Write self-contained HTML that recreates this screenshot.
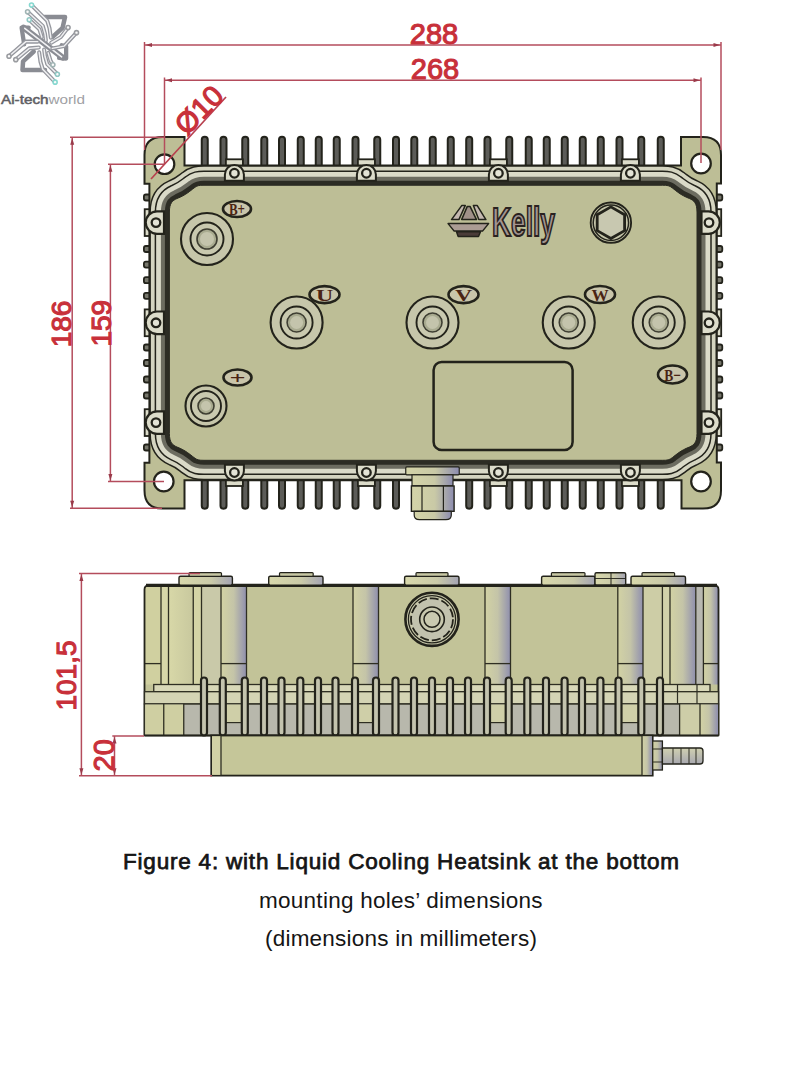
<!DOCTYPE html>
<html><head><meta charset="utf-8"><title>Figure 4</title>
<style>
html,body{margin:0;padding:0;background:#fff;}
body{width:800px;height:1066px;overflow:hidden;position:relative;font-family:"Liberation Sans",sans-serif;}
svg{position:absolute;left:0;top:0;}
</style></head><body>
<svg width="800" height="1066" viewBox="0 0 800 1066">
<defs>
<linearGradient id="gl" x1="0" x2="1" y1="0" y2="0">
<stop offset="0" stop-color="#d4d4a8"/><stop offset="0.55" stop-color="#c9c9a6"/><stop offset="1" stop-color="#8c8cb0"/></linearGradient>
<linearGradient id="cyl" x1="0" x2="1" y1="0" y2="0">
<stop offset="0" stop-color="#d2d2a4"/><stop offset="0.5" stop-color="#c4c4a8"/><stop offset="1" stop-color="#8f8fae"/></linearGradient>
<linearGradient id="ylw" x1="0" x2="1" y1="0" y2="0"><stop offset="0" stop-color="#d8d8a8"/><stop offset="1" stop-color="#c8c89e"/></linearGradient>
<linearGradient id="capg" x1="0" x2="1" y1="0" y2="0"><stop offset="0" stop-color="#d8d8ac"/><stop offset="0.6" stop-color="#cacaa8"/><stop offset="1" stop-color="#a4a4b4"/></linearGradient>
<linearGradient id="barb" x1="0" x2="0" y1="0" y2="1"><stop offset="0" stop-color="#d0d0b0"/><stop offset="1" stop-color="#a8a8b0"/></linearGradient>
</defs>

<rect x="201.75" y="136.8" width="6" height="32" rx="3" fill="#5c5c58" stroke="#23231b" stroke-width="2"/>
<rect x="220.50" y="136.8" width="6" height="32" rx="3" fill="#5c5c58" stroke="#23231b" stroke-width="2"/>
<rect x="242.25" y="136.8" width="6" height="32" rx="3" fill="#5c5c58" stroke="#23231b" stroke-width="2"/>
<rect x="261.30" y="136.8" width="6" height="32" rx="3" fill="#5c5c58" stroke="#23231b" stroke-width="2"/>
<rect x="279.00" y="136.8" width="6" height="32" rx="3" fill="#5c5c58" stroke="#23231b" stroke-width="2"/>
<rect x="297.75" y="136.8" width="6" height="32" rx="3" fill="#5c5c58" stroke="#23231b" stroke-width="2"/>
<rect x="315.75" y="136.8" width="6" height="32" rx="3" fill="#5c5c58" stroke="#23231b" stroke-width="2"/>
<rect x="333.75" y="136.8" width="6" height="32" rx="3" fill="#5c5c58" stroke="#23231b" stroke-width="2"/>
<rect x="352.50" y="136.8" width="6" height="32" rx="3" fill="#5c5c58" stroke="#23231b" stroke-width="2"/>
<rect x="374.25" y="136.8" width="6" height="32" rx="3" fill="#5c5c58" stroke="#23231b" stroke-width="2"/>
<rect x="393.00" y="136.8" width="6" height="32" rx="3" fill="#5c5c58" stroke="#23231b" stroke-width="2"/>
<rect x="411.30" y="136.8" width="6" height="32" rx="3" fill="#5c5c58" stroke="#23231b" stroke-width="2"/>
<rect x="429.75" y="136.8" width="6" height="32" rx="3" fill="#5c5c58" stroke="#23231b" stroke-width="2"/>
<rect x="447.75" y="136.8" width="6" height="32" rx="3" fill="#5c5c58" stroke="#23231b" stroke-width="2"/>
<rect x="466.20" y="136.8" width="6" height="32" rx="3" fill="#5c5c58" stroke="#23231b" stroke-width="2"/>
<rect x="484.50" y="136.8" width="6" height="32" rx="3" fill="#5c5c58" stroke="#23231b" stroke-width="2"/>
<rect x="506.25" y="136.8" width="6" height="32" rx="3" fill="#5c5c58" stroke="#23231b" stroke-width="2"/>
<rect x="525.75" y="136.8" width="6" height="32" rx="3" fill="#5c5c58" stroke="#23231b" stroke-width="2"/>
<rect x="543.75" y="136.8" width="6" height="32" rx="3" fill="#5c5c58" stroke="#23231b" stroke-width="2"/>
<rect x="561.75" y="136.8" width="6" height="32" rx="3" fill="#5c5c58" stroke="#23231b" stroke-width="2"/>
<rect x="579.75" y="136.8" width="6" height="32" rx="3" fill="#5c5c58" stroke="#23231b" stroke-width="2"/>
<rect x="597.75" y="136.8" width="6" height="32" rx="3" fill="#5c5c58" stroke="#23231b" stroke-width="2"/>
<rect x="616.50" y="136.8" width="6" height="32" rx="3" fill="#5c5c58" stroke="#23231b" stroke-width="2"/>
<rect x="638.25" y="136.8" width="6" height="32" rx="3" fill="#5c5c58" stroke="#23231b" stroke-width="2"/>
<rect x="657.75" y="136.8" width="6" height="32" rx="3" fill="#5c5c58" stroke="#23231b" stroke-width="2"/>
<rect x="201.75" y="477" width="6" height="31.8" rx="3" fill="#5c5c58" stroke="#23231b" stroke-width="2"/>
<rect x="220.50" y="477" width="6" height="31.8" rx="3" fill="#5c5c58" stroke="#23231b" stroke-width="2"/>
<rect x="242.25" y="477" width="6" height="31.8" rx="3" fill="#5c5c58" stroke="#23231b" stroke-width="2"/>
<rect x="261.30" y="477" width="6" height="31.8" rx="3" fill="#5c5c58" stroke="#23231b" stroke-width="2"/>
<rect x="279.00" y="477" width="6" height="31.8" rx="3" fill="#5c5c58" stroke="#23231b" stroke-width="2"/>
<rect x="297.75" y="477" width="6" height="31.8" rx="3" fill="#5c5c58" stroke="#23231b" stroke-width="2"/>
<rect x="315.75" y="477" width="6" height="31.8" rx="3" fill="#5c5c58" stroke="#23231b" stroke-width="2"/>
<rect x="333.75" y="477" width="6" height="31.8" rx="3" fill="#5c5c58" stroke="#23231b" stroke-width="2"/>
<rect x="352.50" y="477" width="6" height="31.8" rx="3" fill="#5c5c58" stroke="#23231b" stroke-width="2"/>
<rect x="374.25" y="477" width="6" height="31.8" rx="3" fill="#5c5c58" stroke="#23231b" stroke-width="2"/>
<rect x="393.00" y="477" width="6" height="31.8" rx="3" fill="#5c5c58" stroke="#23231b" stroke-width="2"/>
<rect x="466.20" y="477" width="6" height="31.8" rx="3" fill="#5c5c58" stroke="#23231b" stroke-width="2"/>
<rect x="484.50" y="477" width="6" height="31.8" rx="3" fill="#5c5c58" stroke="#23231b" stroke-width="2"/>
<rect x="506.25" y="477" width="6" height="31.8" rx="3" fill="#5c5c58" stroke="#23231b" stroke-width="2"/>
<rect x="525.75" y="477" width="6" height="31.8" rx="3" fill="#5c5c58" stroke="#23231b" stroke-width="2"/>
<rect x="543.75" y="477" width="6" height="31.8" rx="3" fill="#5c5c58" stroke="#23231b" stroke-width="2"/>
<rect x="561.75" y="477" width="6" height="31.8" rx="3" fill="#5c5c58" stroke="#23231b" stroke-width="2"/>
<rect x="579.75" y="477" width="6" height="31.8" rx="3" fill="#5c5c58" stroke="#23231b" stroke-width="2"/>
<rect x="597.75" y="477" width="6" height="31.8" rx="3" fill="#5c5c58" stroke="#23231b" stroke-width="2"/>
<rect x="616.50" y="477" width="6" height="31.8" rx="3" fill="#5c5c58" stroke="#23231b" stroke-width="2"/>
<rect x="638.25" y="477" width="6" height="31.8" rx="3" fill="#5c5c58" stroke="#23231b" stroke-width="2"/>
<rect x="657.75" y="477" width="6" height="31.8" rx="3" fill="#5c5c58" stroke="#23231b" stroke-width="2"/>
<rect x="143.9" y="194.5" width="8" height="6" rx="2" fill="#77776c" stroke="#23231b" stroke-width="1.8"/>
<rect x="714.5" y="194.5" width="7.8" height="6" rx="2" fill="#77776c" stroke="#23231b" stroke-width="1.8"/>
<rect x="143.9" y="246.0" width="8" height="6" rx="2" fill="#77776c" stroke="#23231b" stroke-width="1.8"/>
<rect x="714.5" y="246.0" width="7.8" height="6" rx="2" fill="#77776c" stroke="#23231b" stroke-width="1.8"/>
<rect x="143.9" y="261.6" width="8" height="6" rx="2" fill="#77776c" stroke="#23231b" stroke-width="1.8"/>
<rect x="714.5" y="261.6" width="7.8" height="6" rx="2" fill="#77776c" stroke="#23231b" stroke-width="1.8"/>
<rect x="143.9" y="277.2" width="8" height="6" rx="2" fill="#77776c" stroke="#23231b" stroke-width="1.8"/>
<rect x="714.5" y="277.2" width="7.8" height="6" rx="2" fill="#77776c" stroke="#23231b" stroke-width="1.8"/>
<rect x="143.9" y="292.8" width="8" height="6" rx="2" fill="#77776c" stroke="#23231b" stroke-width="1.8"/>
<rect x="714.5" y="292.8" width="7.8" height="6" rx="2" fill="#77776c" stroke="#23231b" stroke-width="1.8"/>
<rect x="143.9" y="344.5" width="8" height="6" rx="2" fill="#77776c" stroke="#23231b" stroke-width="1.8"/>
<rect x="714.5" y="344.5" width="7.8" height="6" rx="2" fill="#77776c" stroke="#23231b" stroke-width="1.8"/>
<rect x="143.9" y="360.0" width="8" height="6" rx="2" fill="#77776c" stroke="#23231b" stroke-width="1.8"/>
<rect x="714.5" y="360.0" width="7.8" height="6" rx="2" fill="#77776c" stroke="#23231b" stroke-width="1.8"/>
<rect x="143.9" y="376.5" width="8" height="6" rx="2" fill="#77776c" stroke="#23231b" stroke-width="1.8"/>
<rect x="714.5" y="376.5" width="7.8" height="6" rx="2" fill="#77776c" stroke="#23231b" stroke-width="1.8"/>
<rect x="143.9" y="392.5" width="8" height="6" rx="2" fill="#77776c" stroke="#23231b" stroke-width="1.8"/>
<rect x="714.5" y="392.5" width="7.8" height="6" rx="2" fill="#77776c" stroke="#23231b" stroke-width="1.8"/>
<rect x="143.9" y="444.5" width="8" height="6" rx="2" fill="#77776c" stroke="#23231b" stroke-width="1.8"/>
<rect x="714.5" y="444.5" width="7.8" height="6" rx="2" fill="#77776c" stroke="#23231b" stroke-width="1.8"/>
<rect x="225.9" y="159.3" width="17" height="9" fill="#dcdcca" stroke="#23231b" stroke-width="1.8"/>
<rect x="225.9" y="477" width="17" height="9" fill="#dcdcca" stroke="#23231b" stroke-width="1.8"/>
<rect x="357.9" y="159.3" width="17" height="9" fill="#dcdcca" stroke="#23231b" stroke-width="1.8"/>
<rect x="357.9" y="477" width="17" height="9" fill="#dcdcca" stroke="#23231b" stroke-width="1.8"/>
<rect x="489.9" y="159.3" width="17" height="9" fill="#dcdcca" stroke="#23231b" stroke-width="1.8"/>
<rect x="489.9" y="477" width="17" height="9" fill="#dcdcca" stroke="#23231b" stroke-width="1.8"/>
<rect x="621.9" y="159.3" width="17" height="9" fill="#dcdcca" stroke="#23231b" stroke-width="1.8"/>
<rect x="621.9" y="477" width="17" height="9" fill="#dcdcca" stroke="#23231b" stroke-width="1.8"/>
<rect x="144.7" y="209.2" width="9" height="26.8" fill="#dcdcca" stroke="#23231b" stroke-width="1.8"/>
<rect x="712.5" y="209.2" width="8.7" height="26.8" fill="#dcdcca" stroke="#23231b" stroke-width="1.8"/>
<rect x="144.7" y="309.4" width="9" height="26.8" fill="#dcdcca" stroke="#23231b" stroke-width="1.8"/>
<rect x="712.5" y="309.4" width="8.7" height="26.8" fill="#dcdcca" stroke="#23231b" stroke-width="1.8"/>
<rect x="144.7" y="409.2" width="9" height="26.8" fill="#dcdcca" stroke="#23231b" stroke-width="1.8"/>
<rect x="712.5" y="409.2" width="8.7" height="26.8" fill="#dcdcca" stroke="#23231b" stroke-width="1.8"/>
<path d="M144.5,155 Q144.5,137 162.5,137 L184.5,137 L184.5,165.5 L681,165.5 L681,137 L703,137 Q721,137 721,155 L721,183.5 L716.8,183.5 L716.8,462.5 L721,462.5 L721,490.5 Q721,508.6 703,508.6 L681.5,508.6 L681.5,480.2 L184.5,480.2 L184.5,508.6 L162.5,508.6 Q144.5,508.6 144.5,490.5 L144.5,462.75 L149.4,462.75 L149.4,183.75 L144.5,183.75 Z" fill="#bdbe96" stroke="#23231b" stroke-width="2"/>
<circle cx="164.5" cy="164.2" r="9.8" fill="#fff" stroke="#23231b" stroke-width="2.2"/>
<circle cx="701" cy="163.5" r="9.8" fill="#fff" stroke="#23231b" stroke-width="2.2"/>
<circle cx="163.75" cy="481.5" r="9.8" fill="#fff" stroke="#23231b" stroke-width="2.2"/>
<circle cx="701" cy="481.5" r="9.8" fill="#fff" stroke="#23231b" stroke-width="2.2"/>
<path d="M169.40,212.00 C169.40,203.00 172.50,200.50 177.00,198.50 C186.00,195.00 190.00,191.00 194.00,188.00 C197.00,185.50 199.00,185.25 204.00,185.25 L662.40,185.25 C667.40,185.25 669.40,185.50 672.40,188.00 C676.40,191.00 680.40,195.00 689.40,198.50 C693.90,200.50 697.00,203.00 697.00,212.00 L697.00,433.55 C697.00,442.55 693.90,445.05 689.40,447.05 C680.40,450.55 676.40,454.55 672.40,457.55 C669.40,460.05 667.40,460.30 662.40,460.30 L204.00,460.30 C199.00,460.30 197.00,460.05 194.00,457.55 C190.00,454.55 186.00,450.55 177.00,447.05 C172.50,445.05 169.40,442.55 169.40,433.55 Z" fill="none" stroke="#23231b" stroke-width="40"/>
<path d="M169.40,212.00 C169.40,203.00 172.50,200.50 177.00,198.50 C186.00,195.00 190.00,191.00 194.00,188.00 C197.00,185.50 199.00,185.25 204.00,185.25 L662.40,185.25 C667.40,185.25 669.40,185.50 672.40,188.00 C676.40,191.00 680.40,195.00 689.40,198.50 C693.90,200.50 697.00,203.00 697.00,212.00 L697.00,433.55 C697.00,442.55 693.90,445.05 689.40,447.05 C680.40,450.55 676.40,454.55 672.40,457.55 C669.40,460.05 667.40,460.30 662.40,460.30 L204.00,460.30 C199.00,460.30 197.00,460.05 194.00,457.55 C190.00,454.55 186.00,450.55 177.00,447.05 C172.50,445.05 169.40,442.55 169.40,433.55 Z" fill="none" stroke="#d4d4c0" stroke-width="37"/>
<path d="M169.40,212.00 C169.40,203.00 172.50,200.50 177.00,198.50 C186.00,195.00 190.00,191.00 194.00,188.00 C197.00,185.50 199.00,185.25 204.00,185.25 L662.40,185.25 C667.40,185.25 669.40,185.50 672.40,188.00 C676.40,191.00 680.40,195.00 689.40,198.50 C693.90,200.50 697.00,203.00 697.00,212.00 L697.00,433.55 C697.00,442.55 693.90,445.05 689.40,447.05 C680.40,450.55 676.40,454.55 672.40,457.55 C669.40,460.05 667.40,460.30 662.40,460.30 L204.00,460.30 C199.00,460.30 197.00,460.05 194.00,457.55 C190.00,454.55 186.00,450.55 177.00,447.05 C172.50,445.05 169.40,442.55 169.40,433.55 Z" fill="none" stroke="#23231b" stroke-width="29.5"/>
<path d="M169.40,212.00 C169.40,203.00 172.50,200.50 177.00,198.50 C186.00,195.00 190.00,191.00 194.00,188.00 C197.00,185.50 199.00,185.25 204.00,185.25 L662.40,185.25 C667.40,185.25 669.40,185.50 672.40,188.00 C676.40,191.00 680.40,195.00 689.40,198.50 C693.90,200.50 697.00,203.00 697.00,212.00 L697.00,433.55 C697.00,442.55 693.90,445.05 689.40,447.05 C680.40,450.55 676.40,454.55 672.40,457.55 C669.40,460.05 667.40,460.30 662.40,460.30 L204.00,460.30 C199.00,460.30 197.00,460.05 194.00,457.55 C190.00,454.55 186.00,450.55 177.00,447.05 C172.50,445.05 169.40,442.55 169.40,433.55 Z" fill="none" stroke="#dadac8" stroke-width="26.5"/>
<path d="M169.40,212.00 C169.40,203.00 172.50,200.50 177.00,198.50 C186.00,195.00 190.00,191.00 194.00,188.00 C197.00,185.50 199.00,185.25 204.00,185.25 L662.40,185.25 C667.40,185.25 669.40,185.50 672.40,188.00 C676.40,191.00 680.40,195.00 689.40,198.50 C693.90,200.50 697.00,203.00 697.00,212.00 L697.00,433.55 C697.00,442.55 693.90,445.05 689.40,447.05 C680.40,450.55 676.40,454.55 672.40,457.55 C669.40,460.05 667.40,460.30 662.40,460.30 L204.00,460.30 C199.00,460.30 197.00,460.05 194.00,457.55 C190.00,454.55 186.00,450.55 177.00,447.05 C172.50,445.05 169.40,442.55 169.40,433.55 Z" fill="none" stroke="#6c6c60" stroke-width="17"/>
<path d="M169.40,212.00 C169.40,203.00 172.50,200.50 177.00,198.50 C186.00,195.00 190.00,191.00 194.00,188.00 C197.00,185.50 199.00,185.25 204.00,185.25 L662.40,185.25 C667.40,185.25 669.40,185.50 672.40,188.00 C676.40,191.00 680.40,195.00 689.40,198.50 C693.90,200.50 697.00,203.00 697.00,212.00 L697.00,433.55 C697.00,442.55 693.90,445.05 689.40,447.05 C680.40,450.55 676.40,454.55 672.40,457.55 C669.40,460.05 667.40,460.30 662.40,460.30 L204.00,460.30 C199.00,460.30 197.00,460.05 194.00,457.55 C190.00,454.55 186.00,450.55 177.00,447.05 C172.50,445.05 169.40,442.55 169.40,433.55 Z" fill="none" stroke="#2c2c24" stroke-width="9"/>
<path d="M169.40,212.00 C169.40,203.00 172.50,200.50 177.00,198.50 C186.00,195.00 190.00,191.00 194.00,188.00 C197.00,185.50 199.00,185.25 204.00,185.25 L662.40,185.25 C667.40,185.25 669.40,185.50 672.40,188.00 C676.40,191.00 680.40,195.00 689.40,198.50 C693.90,200.50 697.00,203.00 697.00,212.00 L697.00,433.55 C697.00,442.55 693.90,445.05 689.40,447.05 C680.40,450.55 676.40,454.55 672.40,457.55 C669.40,460.05 667.40,460.30 662.40,460.30 L204.00,460.30 C199.00,460.30 197.00,460.05 194.00,457.55 C190.00,454.55 186.00,450.55 177.00,447.05 C172.50,445.05 169.40,442.55 169.40,433.55 Z" fill="#bdbe96" stroke="#2a2a22" stroke-width="1"/>
<path d="M224.9,180.75 L224.9,174.5 A9.5,9.5 0 0 1 243.9,174.5 L243.9,180.75 Z" fill="#dcdcca" stroke="#23231b" stroke-width="2"/>
<circle cx="234.4" cy="173.25" r="4.3" fill="#e4e4d6" stroke="#23231b" stroke-width="2.3"/>
<path d="M224.9,464.8 L224.9,471 A9.5,9.5 0 0 0 243.9,471 L243.9,464.8 Z" fill="#dcdcca" stroke="#23231b" stroke-width="2"/>
<circle cx="234.4" cy="472.5" r="4.3" fill="#e4e4d6" stroke="#23231b" stroke-width="2.3"/>
<path d="M356.9,180.75 L356.9,174.5 A9.5,9.5 0 0 1 375.9,174.5 L375.9,180.75 Z" fill="#dcdcca" stroke="#23231b" stroke-width="2"/>
<circle cx="366.4" cy="173.25" r="4.3" fill="#e4e4d6" stroke="#23231b" stroke-width="2.3"/>
<path d="M356.9,464.8 L356.9,471 A9.5,9.5 0 0 0 375.9,471 L375.9,464.8 Z" fill="#dcdcca" stroke="#23231b" stroke-width="2"/>
<circle cx="366.4" cy="472.5" r="4.3" fill="#e4e4d6" stroke="#23231b" stroke-width="2.3"/>
<path d="M488.9,180.75 L488.9,174.5 A9.5,9.5 0 0 1 507.9,174.5 L507.9,180.75 Z" fill="#dcdcca" stroke="#23231b" stroke-width="2"/>
<circle cx="498.4" cy="173.25" r="4.3" fill="#e4e4d6" stroke="#23231b" stroke-width="2.3"/>
<path d="M488.9,464.8 L488.9,471 A9.5,9.5 0 0 0 507.9,471 L507.9,464.8 Z" fill="#dcdcca" stroke="#23231b" stroke-width="2"/>
<circle cx="498.4" cy="472.5" r="4.3" fill="#e4e4d6" stroke="#23231b" stroke-width="2.3"/>
<path d="M620.9,180.75 L620.9,174.5 A9.5,9.5 0 0 1 639.9,174.5 L639.9,180.75 Z" fill="#dcdcca" stroke="#23231b" stroke-width="2"/>
<circle cx="630.4" cy="173.25" r="4.3" fill="#e4e4d6" stroke="#23231b" stroke-width="2.3"/>
<path d="M620.9,464.8 L620.9,471 A9.5,9.5 0 0 0 639.9,471 L639.9,464.8 Z" fill="#dcdcca" stroke="#23231b" stroke-width="2"/>
<circle cx="630.4" cy="472.5" r="4.3" fill="#e4e4d6" stroke="#23231b" stroke-width="2.3"/>
<path d="M164,211.3 L157,211.3 A11.3,11.3 0 0 0 157,233.9 L164,233.9 Z" fill="#dcdcca" stroke="#23231b" stroke-width="2.2"/>
<circle cx="156" cy="222.6" r="4.3" fill="#e4e4d6" stroke="#23231b" stroke-width="2.3"/>
<path d="M701.5,211.3 L708.5,211.3 A11.3,11.3 0 0 1 708.5,233.9 L701.5,233.9 Z" fill="#dcdcca" stroke="#23231b" stroke-width="2.2"/>
<circle cx="709" cy="222.6" r="4.3" fill="#e4e4d6" stroke="#23231b" stroke-width="2.3"/>
<path d="M164,311.5 L157,311.5 A11.3,11.3 0 0 0 157,334.1 L164,334.1 Z" fill="#dcdcca" stroke="#23231b" stroke-width="2.2"/>
<circle cx="156" cy="322.8" r="4.3" fill="#e4e4d6" stroke="#23231b" stroke-width="2.3"/>
<path d="M701.5,311.5 L708.5,311.5 A11.3,11.3 0 0 1 708.5,334.1 L701.5,334.1 Z" fill="#dcdcca" stroke="#23231b" stroke-width="2.2"/>
<circle cx="709" cy="322.8" r="4.3" fill="#e4e4d6" stroke="#23231b" stroke-width="2.3"/>
<path d="M164,411.3 L157,411.3 A11.3,11.3 0 0 0 157,433.9 L164,433.9 Z" fill="#dcdcca" stroke="#23231b" stroke-width="2.2"/>
<circle cx="156" cy="422.6" r="4.3" fill="#e4e4d6" stroke="#23231b" stroke-width="2.3"/>
<path d="M701.5,411.3 L708.5,411.3 A11.3,11.3 0 0 1 708.5,433.9 L701.5,433.9 Z" fill="#dcdcca" stroke="#23231b" stroke-width="2.2"/>
<circle cx="709" cy="422.6" r="4.3" fill="#e4e4d6" stroke="#23231b" stroke-width="2.3"/>
<circle cx="207" cy="239" r="26" fill="#c6c6aa" stroke="#23231b" stroke-width="2.1"/>
<circle cx="207" cy="239" r="16.5" fill="#c9c9af" stroke="#23231b" stroke-width="1.9"/>
<circle cx="207" cy="239" r="10" fill="#a9ab90" stroke="#3e3e32" stroke-width="1.6"/>
<circle cx="207" cy="239" r="7" fill="#c4c4ac"/>
<circle cx="296.6" cy="322.5" r="26" fill="#c6c6aa" stroke="#23231b" stroke-width="2.1"/>
<circle cx="296.6" cy="322.5" r="16" fill="#c9c9af" stroke="#23231b" stroke-width="1.9"/>
<circle cx="296.6" cy="322.5" r="9.5" fill="#a9ab90" stroke="#3e3e32" stroke-width="1.6"/>
<circle cx="296.6" cy="322.5" r="6.5" fill="#c4c4ac"/>
<circle cx="432.5" cy="322.5" r="26" fill="#c6c6aa" stroke="#23231b" stroke-width="2.1"/>
<circle cx="432.5" cy="322.5" r="16" fill="#c9c9af" stroke="#23231b" stroke-width="1.9"/>
<circle cx="432.5" cy="322.5" r="9.5" fill="#a9ab90" stroke="#3e3e32" stroke-width="1.6"/>
<circle cx="432.5" cy="322.5" r="6.5" fill="#c4c4ac"/>
<circle cx="568.75" cy="322.5" r="26" fill="#c6c6aa" stroke="#23231b" stroke-width="2.1"/>
<circle cx="568.75" cy="322.5" r="16" fill="#c9c9af" stroke="#23231b" stroke-width="1.9"/>
<circle cx="568.75" cy="322.5" r="9.5" fill="#a9ab90" stroke="#3e3e32" stroke-width="1.6"/>
<circle cx="568.75" cy="322.5" r="6.5" fill="#c4c4ac"/>
<circle cx="658.75" cy="322.5" r="26" fill="#c6c6aa" stroke="#23231b" stroke-width="2.1"/>
<circle cx="658.75" cy="322.5" r="16" fill="#c9c9af" stroke="#23231b" stroke-width="1.9"/>
<circle cx="658.75" cy="322.5" r="9.5" fill="#a9ab90" stroke="#3e3e32" stroke-width="1.6"/>
<circle cx="658.75" cy="322.5" r="6.5" fill="#c4c4ac"/>
<circle cx="206" cy="406" r="20.5" fill="#c6c6aa" stroke="#23231b" stroke-width="2.1"/>
<circle cx="206" cy="406" r="15" fill="#c9c9af" stroke="#23231b" stroke-width="1.9"/>
<circle cx="206" cy="406" r="8" fill="#a9ab90" stroke="#3e3e32" stroke-width="1.6"/>
<circle cx="206" cy="406" r="5" fill="#c4c4ac"/>
<ellipse cx="237" cy="209" rx="14" ry="8" fill="#c9c5aa" stroke="#23231b" stroke-width="2.6"/>
<text x="237" y="215.2" text-anchor="middle" font-family="Liberation Serif" font-weight="bold" font-size="17.5" fill="#4a2414" textLength="16.1" lengthAdjust="spacingAndGlyphs">B+</text>
<ellipse cx="324.5" cy="294.6" rx="15" ry="8.5" fill="#c9c5aa" stroke="#23231b" stroke-width="2.6"/>
<text x="324.5" y="300.8" text-anchor="middle" font-family="Liberation Serif" font-weight="bold" font-size="17.5" fill="#4a2414" textLength="17.2" lengthAdjust="spacingAndGlyphs">U</text>
<ellipse cx="463.5" cy="294.6" rx="15" ry="8.5" fill="#c9c5aa" stroke="#23231b" stroke-width="2.6"/>
<text x="463.5" y="300.8" text-anchor="middle" font-family="Liberation Serif" font-weight="bold" font-size="17.5" fill="#4a2414" textLength="17.2" lengthAdjust="spacingAndGlyphs">V</text>
<ellipse cx="600" cy="294.5" rx="15" ry="8.5" fill="#c9c5aa" stroke="#23231b" stroke-width="2.6"/>
<text x="600" y="300.7" text-anchor="middle" font-family="Liberation Serif" font-weight="bold" font-size="17.5" fill="#4a2414" textLength="17.2" lengthAdjust="spacingAndGlyphs">W</text>
<ellipse cx="672.5" cy="374.5" rx="14.5" ry="9" fill="#c9c5aa" stroke="#23231b" stroke-width="2.6"/>
<text x="672.5" y="380.7" text-anchor="middle" font-family="Liberation Serif" font-weight="bold" font-size="17.5" fill="#4a2414" textLength="16.7" lengthAdjust="spacingAndGlyphs">B−</text>
<ellipse cx="237.5" cy="377.5" rx="14" ry="8" fill="#c9c5aa" stroke="#23231b" stroke-width="2.6"/>
<text x="237.5" y="383.7" text-anchor="middle" font-family="Liberation Serif" font-weight="bold" font-size="17.5" fill="#4a2414" textLength="16.1" lengthAdjust="spacingAndGlyphs">+</text>
<rect x="433.6" y="362" width="139" height="88" rx="8" fill="#bdbe96" stroke="#23231b" stroke-width="2.5"/>
<circle cx="610.9" cy="222.7" r="20.2" fill="#c2c2a4" stroke="#23231b" stroke-width="1.9"/>
<circle cx="610.9" cy="222.7" r="17.7" fill="#c6c6aa" stroke="#23231b" stroke-width="1.5"/>
<polygon points="610.9,238.5 597.2,230.6 597.2,214.8 610.9,206.9 624.6,214.8 624.6,230.6" fill="#c8c8b0" stroke="#23231b" stroke-width="2.8" stroke-linejoin="round"/>
<g stroke="#23231b" stroke-width="1.5" stroke-linejoin="round"><path d="M451.5,219.6 L461.9,205.4 L465.3,205.4 L458.9,219.6 Z" fill="#c4b8b0"/><path d="M461.6,219.6 L467.3,206.4 L470,206.4 L476.5,219.6 Z" fill="#a09088"/><path d="M473.4,205.4 L477.1,205.4 L485.9,219.6 L478.8,219.6 Z" fill="#c4b8b0"/><path d="M448.1,223.6 L488.6,223.6 L482.5,231.1 L454.2,231.1 Z" fill="#ab9c94"/><path d="M456.5,231.8 L480.5,231.8 L478.5,236.5 L458.2,236.5 Z" fill="#4a3c38"/></g>
<text x="492" y="235.5" font-family="Liberation Sans" font-weight="bold" font-size="41" fill="#a39590" stroke="#2a2220" stroke-width="2.2" textLength="63" lengthAdjust="spacingAndGlyphs">Kelly</text>
<rect x="405.75" y="466.9" width="53.5" height="7.9" rx="1" fill="url(#gl)" stroke="#23231b" stroke-width="1.2"/>
<rect x="412" y="474.8" width="41" height="11" fill="url(#gl)" stroke="#23231b" stroke-width="1.2"/>
<rect x="411.4" y="486" width="42.7" height="25.3" fill="url(#gl)" stroke="#23231b" stroke-width="1.4"/>
<line x1="422" y1="486" x2="422" y2="511" stroke="#23231b" stroke-width="1.2"/>
<line x1="443.4" y1="486" x2="443.4" y2="511" stroke="#23231b" stroke-width="1.2"/>
<path d="M414.2,511.3 L451.3,511.3 L451.3,515 Q451.3,519.7 446,519.7 L419.5,519.7 Q414.2,519.7 414.2,515 Z" fill="url(#gl)" stroke="#23231b" stroke-width="1.2"/>
<g stroke="#b44c5c" stroke-width="1.5" fill="none"><path d="M144.5,45 L721,45"/><path d="M144.5,42 L144.5,150"/><path d="M721,42 L721,150"/><path d="M164.5,80.3 L701,80.3"/><path d="M164.5,77.5 L164.5,164"/><path d="M701,77.5 L701,163"/><path d="M70,137.3 L165,137.3"/><path d="M72.2,137.3 L72.2,508.3"/><path d="M70,508.3 L162,508.3"/><path d="M108,164.3 L164,164.3"/><path d="M110.4,164.3 L110.4,481.5"/><path d="M108,481.5 L164,481.5"/></g>
<polygon points="145.5,45.0 152.0,43.0 152.0,47.0" fill="#9a3a4a"/>
<polygon points="720.0,45.0 713.5,43.0 713.5,47.0" fill="#9a3a4a"/>
<polygon points="165.5,80.3 172.0,78.3 172.0,82.3" fill="#9a3a4a"/>
<polygon points="700.0,80.3 693.5,78.3 693.5,82.3" fill="#9a3a4a"/>
<polygon points="72.2,138.3 70.2,144.8 74.2,144.8" fill="#9a3a4a"/>
<polygon points="72.2,507.3 70.2,500.8 74.2,500.8" fill="#9a3a4a"/>
<polygon points="110.4,165.3 108.4,171.8 112.4,171.8" fill="#9a3a4a"/>
<polygon points="110.4,480.5 108.4,474.0 112.4,474.0" fill="#9a3a4a"/>
<path d="M226,97 L151,179" stroke="#b8404e" stroke-width="1.7"/>
<g font-family="Liberation Sans" font-size="29" fill="#c8303a" stroke="#c8303a" stroke-width="1.1"><text x="434" y="44.2" text-anchor="middle">288</text><text x="435" y="79.4" text-anchor="middle">268</text><text transform="translate(70.8,324) rotate(-90)" text-anchor="middle" font-size="28">186</text><text transform="translate(110.6,323.2) rotate(-90)" text-anchor="middle" font-size="28">159</text></g>
<text transform="translate(199,110) rotate(-45)" text-anchor="middle" y="10" font-family="Liberation Sans" font-size="29" fill="#c8303a" stroke="#c8303a" stroke-width="1.2">Ø10</text>
<path d="M144.5,735.5 L144.5,589.5 Q144.5,585.3 149,585.3 L714,585.3 Q718.5,585.3 718.5,589.5 L718.5,735.5 Z" fill="#c2c398"/>
<rect x="145.3" y="586.5" width="15.70" height="98" fill="#d0d0a0"/>
<rect x="161" y="586.5" width="7.50" height="98" fill="#d6d6a8"/>
<rect x="168.5" y="586.5" width="24.75" height="98" fill="url(#ylw)"/>
<rect x="193.25" y="586.5" width="8.25" height="98" fill="#d4d4a6"/>
<rect x="201.5" y="586.5" width="19.50" height="98" fill="#c9c9a9"/>
<rect x="643" y="586.5" width="19.40" height="98" fill="#cdcda6"/>
<rect x="662.4" y="586.5" width="7.60" height="98" fill="#d2d2aa"/>
<rect x="695.8" y="586.5" width="7.60" height="98" fill="#b8b8b0"/>
<rect x="221" y="586.5" width="25.50" height="98" fill="url(#cyl)"/>
<rect x="353" y="586.5" width="25.50" height="98" fill="url(#cyl)"/>
<rect x="485" y="586.5" width="25.50" height="98" fill="url(#cyl)"/>
<rect x="617.8" y="586.5" width="25.20" height="98" fill="url(#cyl)"/>
<rect x="670" y="586.5" width="25.80" height="98" fill="url(#cyl)"/>
<rect x="703.4" y="586.5" width="14.60" height="98" fill="url(#cyl)"/>
<line x1="161" y1="586.5" x2="161" y2="684" stroke="#2e2e22" stroke-width="1.3"/>
<line x1="168.5" y1="586.5" x2="168.5" y2="684" stroke="#2e2e22" stroke-width="1.3"/>
<line x1="193.25" y1="586.5" x2="193.25" y2="684" stroke="#2e2e22" stroke-width="1.3"/>
<line x1="201.5" y1="586.5" x2="201.5" y2="684" stroke="#2e2e22" stroke-width="1.3"/>
<line x1="221" y1="586.5" x2="221" y2="684" stroke="#2e2e22" stroke-width="1.3"/>
<line x1="246.5" y1="586.5" x2="246.5" y2="684" stroke="#2e2e22" stroke-width="1.3"/>
<line x1="353" y1="586.5" x2="353" y2="684" stroke="#2e2e22" stroke-width="1.3"/>
<line x1="378.5" y1="586.5" x2="378.5" y2="684" stroke="#2e2e22" stroke-width="1.3"/>
<line x1="485" y1="586.5" x2="485" y2="684" stroke="#2e2e22" stroke-width="1.3"/>
<line x1="510.5" y1="586.5" x2="510.5" y2="684" stroke="#2e2e22" stroke-width="1.3"/>
<line x1="617.8" y1="586.5" x2="617.8" y2="684" stroke="#2e2e22" stroke-width="1.3"/>
<line x1="643" y1="586.5" x2="643" y2="684" stroke="#2e2e22" stroke-width="1.3"/>
<line x1="662.4" y1="586.5" x2="662.4" y2="684" stroke="#2e2e22" stroke-width="1.3"/>
<line x1="670" y1="586.5" x2="670" y2="684" stroke="#2e2e22" stroke-width="1.3"/>
<line x1="695.8" y1="586.5" x2="695.8" y2="684" stroke="#2e2e22" stroke-width="1.3"/>
<line x1="703.4" y1="586.5" x2="703.4" y2="684" stroke="#2e2e22" stroke-width="1.3"/>
<line x1="144.5" y1="663.6" x2="161" y2="663.6" stroke="#2e2e22" stroke-width="1.3"/>
<line x1="221" y1="663.6" x2="246.5" y2="663.6" stroke="#2e2e22" stroke-width="1.3"/>
<line x1="353" y1="663.6" x2="378.5" y2="663.6" stroke="#2e2e22" stroke-width="1.3"/>
<line x1="485" y1="663.6" x2="510.5" y2="663.6" stroke="#2e2e22" stroke-width="1.3"/>
<line x1="617.8" y1="663.6" x2="643" y2="663.6" stroke="#2e2e22" stroke-width="1.3"/>
<line x1="703.4" y1="663.6" x2="718.5" y2="663.6" stroke="#2e2e22" stroke-width="1.3"/>
<path d="M144.5,735.5 L144.5,589.5 Q144.5,585.3 149,585.3 L714,585.3 Q718.5,585.3 718.5,589.5 L718.5,735.5" fill="none" stroke="#23231b" stroke-width="1.8"/>
<line x1="146" y1="585.4" x2="717" y2="585.4" stroke="#23231b" stroke-width="3.4"/>
<rect x="153.75" y="684.5" width="556.25" height="7.2" fill="#d8d8b8" stroke="#2e2e22" stroke-width="1.3"/>
<rect x="144.5" y="691.7" width="574" height="12.3" fill="#d4d4b4" stroke="#2e2e22" stroke-width="1.3"/>
<rect x="144.5" y="704" width="574" height="31.5" fill="#b8b8ac" stroke="#2e2e22" stroke-width="1.4"/>
<rect x="145.2" y="704.5" width="38.55" height="30.3" fill="#cfcfa2"/>
<rect x="679.6" y="704.5" width="20.40" height="30.3" fill="#cdcda8"/>
<rect x="700" y="704.5" width="18" height="30.3" fill="url(#cyl)"/>
<rect x="222.5" y="704.5" width="22.00" height="18" fill="#cfcfa8"/>
<line x1="222.5" y1="722.6" x2="244.5" y2="722.6" stroke="#2e2e22" stroke-width="1.2"/>
<rect x="354.5" y="704.5" width="21.00" height="18" fill="#cfcfa8"/>
<line x1="354.5" y1="722.6" x2="375.5" y2="722.6" stroke="#2e2e22" stroke-width="1.2"/>
<rect x="486.5" y="704.5" width="21.90" height="18" fill="#cfcfa8"/>
<line x1="486.5" y1="722.6" x2="508.4" y2="722.6" stroke="#2e2e22" stroke-width="1.2"/>
<rect x="618" y="704.5" width="23.00" height="18" fill="#cfcfa8"/>
<line x1="618" y1="722.6" x2="641" y2="722.6" stroke="#2e2e22" stroke-width="1.2"/>
<line x1="163.75" y1="703.75" x2="163.75" y2="735.5" stroke="#2e2e22" stroke-width="1.3"/>
<line x1="183.75" y1="703.75" x2="183.75" y2="735.5" stroke="#2e2e22" stroke-width="1.3"/>
<line x1="679.6" y1="703.75" x2="679.6" y2="735.5" stroke="#2e2e22" stroke-width="1.3"/>
<line x1="700" y1="703.75" x2="700" y2="735.5" stroke="#2e2e22" stroke-width="1.3"/>
<line x1="677.5" y1="684" x2="677.5" y2="703.75" stroke="#2e2e22" stroke-width="1.2"/>
<line x1="697" y1="684" x2="697" y2="703.75" stroke="#2e2e22" stroke-width="1.2"/>
<rect x="201.0" y="677.5" width="6" height="58" rx="3" fill="#c4c4ae" stroke="#23231b" stroke-width="2.2"/>
<rect x="219.8" y="677.5" width="6" height="58" rx="3" fill="#c4c4ae" stroke="#23231b" stroke-width="2.2"/>
<rect x="241.8" y="677.5" width="6" height="58" rx="3" fill="#c4c4ae" stroke="#23231b" stroke-width="2.2"/>
<rect x="261.0" y="677.5" width="6" height="58" rx="3" fill="#c4c4ae" stroke="#23231b" stroke-width="2.2"/>
<rect x="278.5" y="677.5" width="6" height="58" rx="3" fill="#c4c4ae" stroke="#23231b" stroke-width="2.2"/>
<rect x="297.3" y="677.5" width="6" height="58" rx="3" fill="#c4c4ae" stroke="#23231b" stroke-width="2.2"/>
<rect x="315.0" y="677.5" width="6" height="58" rx="3" fill="#c4c4ae" stroke="#23231b" stroke-width="2.2"/>
<rect x="332.5" y="677.5" width="6" height="58" rx="3" fill="#c4c4ae" stroke="#23231b" stroke-width="2.2"/>
<rect x="352.0" y="677.5" width="6" height="58" rx="3" fill="#c4c4ae" stroke="#23231b" stroke-width="2.2"/>
<rect x="373.0" y="677.5" width="6" height="58" rx="3" fill="#c4c4ae" stroke="#23231b" stroke-width="2.2"/>
<rect x="392.5" y="677.5" width="6" height="58" rx="3" fill="#c4c4ae" stroke="#23231b" stroke-width="2.2"/>
<rect x="411.0" y="677.5" width="6" height="58" rx="3" fill="#c4c4ae" stroke="#23231b" stroke-width="2.2"/>
<rect x="429.0" y="677.5" width="6" height="58" rx="3" fill="#c4c4ae" stroke="#23231b" stroke-width="2.2"/>
<rect x="447.0" y="677.5" width="6" height="58" rx="3" fill="#c4c4ae" stroke="#23231b" stroke-width="2.2"/>
<rect x="465.0" y="677.5" width="6" height="58" rx="3" fill="#c4c4ae" stroke="#23231b" stroke-width="2.2"/>
<rect x="484.0" y="677.5" width="6" height="58" rx="3" fill="#c4c4ae" stroke="#23231b" stroke-width="2.2"/>
<rect x="505.7" y="677.5" width="6" height="58" rx="3" fill="#c4c4ae" stroke="#23231b" stroke-width="2.2"/>
<rect x="524.3" y="677.5" width="6" height="58" rx="3" fill="#c4c4ae" stroke="#23231b" stroke-width="2.2"/>
<rect x="543.0" y="677.5" width="6" height="58" rx="3" fill="#c4c4ae" stroke="#23231b" stroke-width="2.2"/>
<rect x="561.6" y="677.5" width="6" height="58" rx="3" fill="#c4c4ae" stroke="#23231b" stroke-width="2.2"/>
<rect x="579.0" y="677.5" width="6" height="58" rx="3" fill="#c4c4ae" stroke="#23231b" stroke-width="2.2"/>
<rect x="597.4" y="677.5" width="6" height="58" rx="3" fill="#c4c4ae" stroke="#23231b" stroke-width="2.2"/>
<rect x="615.5" y="677.5" width="6" height="58" rx="3" fill="#c4c4ae" stroke="#23231b" stroke-width="2.2"/>
<rect x="638.3" y="677.5" width="6" height="58" rx="3" fill="#c4c4ae" stroke="#23231b" stroke-width="2.2"/>
<rect x="657.0" y="677.5" width="6" height="58" rx="3" fill="#c4c4ae" stroke="#23231b" stroke-width="2.2"/>
<line x1="144.5" y1="735.5" x2="718.5" y2="735.5" stroke="#23231b" stroke-width="1.8"/>
<rect x="179" y="576.3" width="53.40" height="8.8" rx="1.5" fill="url(#capg)" stroke="#23231b" stroke-width="1.4"/>
<rect x="189" y="572.6" width="32.50" height="3.70" rx="1" fill="#c8c8a4" stroke="#23231b" stroke-width="1.2"/>
<rect x="268.7" y="576.3" width="54.30" height="8.8" rx="1.5" fill="url(#capg)" stroke="#23231b" stroke-width="1.4"/>
<rect x="279.5" y="572.6" width="33.70" height="3.70" rx="1" fill="#c8c8a4" stroke="#23231b" stroke-width="1.2"/>
<rect x="404.6" y="576.3" width="54.40" height="8.8" rx="1.5" fill="url(#capg)" stroke="#23231b" stroke-width="1.4"/>
<rect x="416" y="572.6" width="32.00" height="3.70" rx="1" fill="#c8c8a4" stroke="#23231b" stroke-width="1.2"/>
<rect x="541.6" y="576.3" width="53.40" height="8.8" rx="1.5" fill="url(#capg)" stroke="#23231b" stroke-width="1.4"/>
<rect x="551.4" y="572.6" width="33.60" height="3.70" rx="1" fill="#c8c8a4" stroke="#23231b" stroke-width="1.2"/>
<rect x="631" y="576.3" width="54.50" height="8.8" rx="1.5" fill="url(#capg)" stroke="#23231b" stroke-width="1.4"/>
<rect x="642" y="572.6" width="32.60" height="3.70" rx="1" fill="#c8c8a4" stroke="#23231b" stroke-width="1.2"/>
<rect x="595" y="572.7" width="30.7" height="12.3" rx="1.5" fill="url(#capg)" stroke="#23231b" stroke-width="1.4"/>
<line x1="595" y1="578.5" x2="625.7" y2="578.5" stroke="#23231b" stroke-width="0.9"/>
<line x1="611" y1="572.7" x2="611" y2="585" stroke="#23231b" stroke-width="1"/>
<circle cx="432" cy="619.3" r="26.6" fill="#c8c8aa" stroke="#23231b" stroke-width="2.6"/>
<circle cx="432" cy="619.3" r="23.6" fill="none" stroke="#23231b" stroke-width="1.3"/>
<circle cx="432" cy="619.3" r="21" fill="#c2c2ae" stroke="#23231b" stroke-width="1.8" stroke-dasharray="9 3"/>
<circle cx="432" cy="619.3" r="12.3" fill="#c8c8ae" stroke="#23231b" stroke-width="1.6"/>
<circle cx="432" cy="619.3" r="8" fill="#cacab0" stroke="#23231b" stroke-width="1.5"/>
<rect x="211.25" y="735.5" width="441.45" height="40.1" fill="#c5c699" stroke="#23231b" stroke-width="1.8"/>
<rect x="212" y="736.3" width="9" height="38.5" fill="#d2d2a6"/>
<rect x="642" y="736.3" width="10" height="38.5" fill="url(#cyl)"/>
<line x1="221" y1="735.5" x2="221" y2="775.6" stroke="#2e2e22" stroke-width="1.3"/>
<line x1="642" y1="735.5" x2="642" y2="775.6" stroke="#2e2e22" stroke-width="1.3"/>
<rect x="652.7" y="741" width="9.7" height="29" fill="url(#cyl)" stroke="#23231b" stroke-width="1.3"/>
<line x1="652.7" y1="749" x2="662.4" y2="749" stroke="#2e2e22" stroke-width="1"/><line x1="652.7" y1="762" x2="662.4" y2="762" stroke="#2e2e22" stroke-width="1"/>
<path d="M662.4,748 L700,748 Q703,748 703,751 L703,761 Q703,764 700,764 L662.4,764 Z" fill="url(#barb)" stroke="#23231b" stroke-width="1.3"/>
<line x1="673" y1="748" x2="673" y2="764" stroke="#2e2e22" stroke-width="1"/>
<line x1="681" y1="748" x2="681" y2="764" stroke="#2e2e22" stroke-width="1"/>
<line x1="689" y1="748" x2="689" y2="764" stroke="#2e2e22" stroke-width="1"/>
<line x1="696" y1="748" x2="696" y2="764" stroke="#2e2e22" stroke-width="1"/>
<g stroke="#b44c5c" stroke-width="1.5" fill="none"><path d="M79,573.4 L200,573.4"/><path d="M81.4,573.4 L81.4,775.8"/><path d="M79,775.8 L212,775.8"/><path d="M112.3,736 L144,736"/><path d="M114.5,736 L114.5,775.8"/></g>
<polygon points="81.4,574.4 79.4,580.9 83.4,580.9" fill="#9a3a4a"/>
<polygon points="81.4,774.8 79.4,768.3 83.4,768.3" fill="#9a3a4a"/>
<polygon points="114.5,737.0 112.5,743.5 116.5,743.5" fill="#9a3a4a"/>
<polygon points="114.5,774.8 112.5,768.3 116.5,768.3" fill="#9a3a4a"/>
<g font-family="Liberation Sans" font-size="29" fill="#c8303a" stroke="#c8303a" stroke-width="1.1"><text transform="translate(76,675.5) rotate(-90)" text-anchor="middle" font-size="28">101,5</text><text transform="translate(113.8,755.3) rotate(-90)" text-anchor="middle">20</text></g>
<g transform="scale(0.1125)" fill="none" stroke-linejoin="round" stroke-linecap="round">
<path d="M395,152 L578,152 L556,248 L468,328" stroke="#8a8c93" stroke-width="40"/>
<path d="M400,622 L200,622 L205,545 L300,458" stroke="#8a8c93" stroke-width="40"/>
<path d="M215,395 L192,245 L255,245" stroke="#8a8c93" stroke-width="38"/>
<path d="M548,402 L588,410 L588,520 L525,515" stroke="#8a8c93" stroke-width="38"/>
<path d="M210,245 L558,512" stroke="#8a8c93" stroke-width="52"/>
<path d="M220,252 L548,505" stroke="#f2f2f4" stroke-width="14"/>
<path d="M280,45 L420,185 L440,250 L452,335" stroke="#95979e" stroke-width="36"/>
<path d="M245,105 L380,230 L400,300 L408,360" stroke="#95979e" stroke-width="36"/>
<path d="M260,175 L350,260 L372,330" stroke="#95979e" stroke-width="36"/>
<path d="M490,730 L380,615 L360,550 L348,465" stroke="#95979e" stroke-width="36"/>
<path d="M510,660 L420,570 L400,500 L392,440" stroke="#95979e" stroke-width="36"/>
<path d="M470,575 L450,540 L428,470" stroke="#95979e" stroke-width="36"/>
<path d="M80,500 L230,370 L335,370" stroke="#95979e" stroke-width="36"/>
<path d="M140,530 L260,430 L345,422" stroke="#95979e" stroke-width="36"/>
<path d="M680,290 L570,410 L465,430" stroke="#95979e" stroke-width="36"/>
<path d="M605,245 L540,330 L455,380" stroke="#95979e" stroke-width="36"/>
<path d="M280,45 L420,185 L440,250 L452,335" stroke="#f0f0f2" stroke-width="13"/>
<path d="M245,105 L380,230 L400,300 L408,360" stroke="#f0f0f2" stroke-width="13"/>
<path d="M260,175 L350,260 L372,330" stroke="#f0f0f2" stroke-width="13"/>
<path d="M490,730 L380,615 L360,550 L348,465" stroke="#f0f0f2" stroke-width="13"/>
<path d="M510,660 L420,570 L400,500 L392,440" stroke="#f0f0f2" stroke-width="13"/>
<path d="M470,575 L450,540 L428,470" stroke="#f0f0f2" stroke-width="13"/>
<path d="M80,500 L230,370 L335,370" stroke="#f0f0f2" stroke-width="13"/>
<path d="M140,530 L260,430 L345,422" stroke="#f0f0f2" stroke-width="13"/>
<path d="M680,290 L570,410 L465,430" stroke="#f0f0f2" stroke-width="13"/>
<path d="M605,245 L540,330 L455,380" stroke="#f0f0f2" stroke-width="13"/>
<circle cx="280" cy="45" r="18" fill="#fafafa" stroke="#86d8d0" stroke-width="14"/>
<circle cx="245" cy="105" r="18" fill="#fafafa" stroke="#a0b4b4" stroke-width="14"/>
<circle cx="260" cy="175" r="18" fill="#fafafa" stroke="#90c8c4" stroke-width="14"/>
<circle cx="80" cy="500" r="18" fill="#fafafa" stroke="#9a9ca0" stroke-width="14"/>
<circle cx="140" cy="530" r="18" fill="#fafafa" stroke="#9a9ca0" stroke-width="14"/>
<circle cx="680" cy="290" r="18" fill="#fafafa" stroke="#9a9ca0" stroke-width="14"/>
<circle cx="605" cy="245" r="18" fill="#fafafa" stroke="#9a9ca0" stroke-width="14"/>
<circle cx="490" cy="730" r="18" fill="#fafafa" stroke="#86d8d0" stroke-width="14"/>
<circle cx="510" cy="660" r="18" fill="#fafafa" stroke="#90c8c4" stroke-width="14"/>
<circle cx="470" cy="575" r="18" fill="#fafafa" stroke="#a0b4b4" stroke-width="14"/>
</g>
<text x="1" y="104" font-family="Liberation Sans" font-size="13" textLength="84" lengthAdjust="spacingAndGlyphs"><tspan fill="#606065" stroke="#606065" stroke-width="0.5">Ai-tech</tspan><tspan fill="#a0a0a4">world</tspan></text>
<text x="123" y="869" font-family="Liberation Sans" font-size="22.5" fill="#151515" stroke="#151515" stroke-width="0.75" textLength="556" lengthAdjust="spacing">Figure 4: with Liquid Cooling Heatsink at the bottom</text>
<text x="259" y="908" font-family="Liberation Sans" font-size="22.5" fill="#151515" textLength="283.5" lengthAdjust="spacing">mounting holes’ dimensions</text>
<text x="265" y="946" font-family="Liberation Sans" font-size="22.5" fill="#151515" textLength="272" lengthAdjust="spacing">(dimensions in millimeters)</text>
</svg>
</body></html>
